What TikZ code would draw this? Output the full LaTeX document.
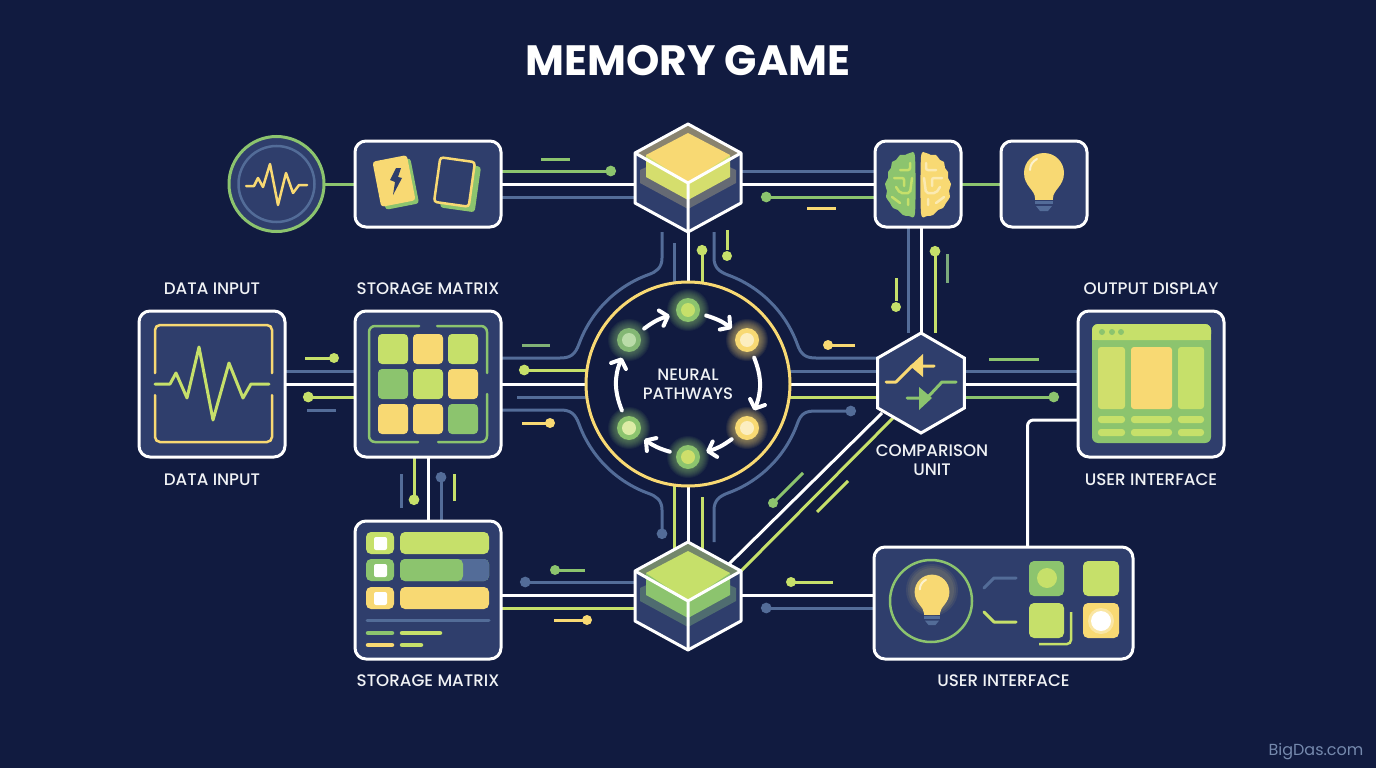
\documentclass[tikz,border=0pt]{standalone}
\usepackage{fontspec}
\setmainfont{Poppins}
\newfontfamily\labelfont{Poppins Medium}
\usepackage{xcolor}
\usetikzlibrary{positioning, shapes.geometric, arrows.meta, backgrounds}
\definecolor{Navy}{HTML}{111B40}
\definecolor{PanelBlue}{HTML}{2F3E6C}
\definecolor{Lime}{HTML}{C6E06A}
\definecolor{Leaf}{HTML}{8CC46E}
\definecolor{Gold}{HTML}{F8D973}
\definecolor{Slate}{HTML}{536C98}
\definecolor{Ink}{HTML}{F0F2F5}

% cube icon: node, top face, band, under band
\newcommand{\CubeIcon}[4]{
    \begin{scope}[shift={(#1.center)}]
        \fill[PanelBlue] (0,-54) -- (53,-25) -- (53,25) -- (0,54) -- (-53,25) -- (-53,-25) -- cycle;
        \fill[#2, opacity=0.45] (0,-54) -- (53,-25) -- (0,5) -- (-53,-25) -- cycle;
        \fill[#4, opacity=0.4] (-48,-8) -- (0,-30) -- (48,-8) -- (48,5) -- (0,31) -- (-48,5) -- cycle;
        \fill[#3] (-42,-23) -- (42,-23) -- (42,-1) -- (0,22) -- (-42,-1) -- cycle;
        \fill[#2] (0,-45) -- (42,-23) -- (0,5) -- (-42,-23) -- cycle;
        \draw[white, line width=3pt, line join=round] (0,-54) -- (53,-25) -- (53,25) -- (0,54) -- (-53,25) -- (-53,-25) -- cycle;
        \draw[white, line width=3pt, line join=round] (-53,-25) -- (0,5) -- (53,-25) (0,5) -- (0,54);
    \end{scope}
}
% bulb icon: x, y, scale
\newcommand{\BulbIcon}[3]{
    \begin{scope}[shift={(#1,#2)}, scale=#3]
        \fill[Gold] (-9,25) .. controls (-9,17) and (-20,13) .. (-20,0) arc[start angle=180, end angle=360, radius=20] .. controls (20,13) and (9,17) .. (9,25) -- cycle;
        \draw[Gold!35!white, line width=2pt, line cap=round] (-14,-3) .. controls (-14,-8) and (-11,-12) .. (-7,-14);
        \fill[Gold] (-9,25) rectangle (9,27);
        \fill[Slate] (-9,28) rectangle (9,31);
        \fill[Slate] (-8,33) -- (8,33) -- (4,38) -- (-4,38) -- cycle;
    \end{scope}
}

\begin{document}
\begin{tikzpicture}[
        x = 1pt, y = -1pt,
        Panel/.style = {rectangle, rounded corners = 11, draw = white, fill = PanelBlue, line width = 3pt, inner sep = 0, outer sep = 0},
        %
        Label/.style = {font = \labelfont\fontsize{16.7}{19}\selectfont, text = Ink, inner sep = 0, outer sep = 0, align = center},
        %
        WhiteLine/.style = {draw = white, line width = 3pt},
        SlateLine/.style = {draw = Slate, line width = 3pt},
        LeafLine/.style = {draw = Leaf, line width = 3pt},
        LimeLine/.style = {draw = Lime, line width = 3pt},
        GoldLine/.style = {draw = Gold, line width = 3pt},
        %
        Dot/.style = {-{Circle[length = 10.5pt, width = 10.5pt]}},
        %
        Flow/.style = {draw = white, line width = 4pt, line cap = round, -{Straight Barb[length = 7pt, width = 16pt, round]}},
    ]
        \useasboundingbox (0,0) rectangle (1376,768);

        % Main boxes
        \node[Panel, minimum width = 146pt, minimum height = 146pt] (DataInput) at (212,384) {};
        \node[Panel, minimum width = 146pt, minimum height = 146pt] (StorageMatrix) [right = 70pt of DataInput] {};
        \node[Panel, minimum width = 146pt, minimum height = 86pt] (CardDeck) [above = 84pt of StorageMatrix] {};
        \node[Panel, minimum width = 146pt, minimum height = 138pt] (StorageList) [below = 64pt of StorageMatrix] {};
        \node[circle, draw = Leaf, fill = PanelBlue, line width = 3pt, minimum size = 95pt, inner sep = 0, outer sep = 0] (PulseDial) [left = 31pt of CardDeck] {};

        % Neural ring
        \node[circle, draw = Gold, fill = Navy, line width = 3pt, minimum size = 204pt, inner sep = 0, outer sep = 0, font = \labelfont\fontsize{16.5}{19}\selectfont, text = Ink, align = center] (Neural) at (688,384) {NEURAL\\PATHWAYS};

        % Cubes only hold a place, the icon comes later
        \node[minimum width = 106pt, minimum height = 108pt, inner sep = 0, outer sep = 0] (TopCube) [above = 50pt of Neural] {};
        \node[minimum width = 106pt, minimum height = 108pt, inner sep = 0, outer sep = 0] (BottomCube) [below = 56pt of Neural] {};

        \node[regular polygon, regular polygon sides = 6, shape border rotate = 30, draw = white, fill = PanelBlue, line width = 3pt, minimum size = 100pt, inner sep = 0, outer sep = 0] (CompUnit) at (921,383) {};
        \node[Panel, minimum width = 146pt, minimum height = 146pt] (OutputDisplay) at (1151,384) {};
        \node[Panel, minimum width = 86pt, minimum height = 86pt] (BrainBox) at (918,184) {};
        \node[Panel, minimum width = 86pt, minimum height = 86pt] (BulbBox) [right = 40pt of BrainBox] {};
        \node[Panel, minimum width = 259pt, minimum height = 112pt] (UserPanel) at (1003.5,603) {};

        % Dots at the free line ends
        \coordinate (CardDot) at (616,171);
        \coordinate (BrainDot) at (761,197);
        \coordinate (BrainDownDot) at (935,246);
        \coordinate (InputDot) at (303,397);
        \coordinate (MatrixDot) at (519,370);
        \coordinate (MatrixSlate) at (517,397);
        \coordinate (MatrixDownDot) at (414,505);
        \coordinate (ListTopDot) at (441,472);
        \coordinate (CubeDot) at (702,245);
        \coordinate (RingTopEnd) at (674,243);
        \coordinate (RingLeftDot) at (662,539);
        \coordinate (RingRightDot) at (856,411);
        \coordinate (RingDownEnd) at (702,497);
        \coordinate (ListDot) at (520,582);
        \coordinate (PanelDot) at (761,608);
        \coordinate (OutputDot) at (1059,397);

        \begin{scope}[on background layer]
        \fill[Navy] (0,0) rectangle (1376,768);

        % Arrows top row
        \draw[LeafLine] (PulseDial.east) -- (CardDeck.west);
        \draw[LeafLine, Dot] ([shift={(0,-13)}]CardDeck.east) -- (CardDot);
        \draw[WhiteLine] (CardDeck.east) -- ([shift={(0,6)}]TopCube.west);
        \draw[SlateLine] ([shift={(0,13)}]CardDeck.east) -- ([shift={(0,19)}]TopCube.west);
        \draw[SlateLine] ([shift={(0,-7)}]TopCube.east) -- ([shift={(0,-13)}]BrainBox.west);
        \draw[WhiteLine] ([shift={(0,6)}]TopCube.east) -- (BrainBox.west);
        \draw[LeafLine, Dot] ([shift={(0,13)}]BrainBox.west) -- (BrainDot);
        \draw[LeafLine] (BrainBox.east) -- (BulbBox.west);

        % Arrows brain to comparison
        \draw[SlateLine] ([shift={(-10,0)}]BrainBox.south) -- ([shift={(-13,0)}]CompUnit.north);
        \draw[WhiteLine] ([shift={(3,0)}]BrainBox.south) -- (CompUnit.north);
        \draw[LimeLine, Dot] ([shift={(14,0)}]CompUnit.north) -- (BrainDownDot);

        % Arrows input to matrix
        \draw[SlateLine] ([shift={(0,-13)}]DataInput.east) -- ([shift={(0,-13)}]StorageMatrix.west);
        \draw[WhiteLine] (DataInput.east) -- (StorageMatrix.west);
        \draw[LimeLine, Dot] ([shift={(0,13)}]StorageMatrix.west) -- (InputDot);

        % Arrows matrix to ring
        \draw[LimeLine, Dot] ([shift={(0,-14)}]Neural.west) -- (MatrixDot);
        \draw[WhiteLine] (StorageMatrix.east) -- (Neural.west);
        \draw[SlateLine] (MatrixSlate) -- ([shift={(0,13)}]Neural.west);

        % Arrows ring to comparison
        \draw[SlateLine] ([shift={(0,-13)}]Neural.east) -- ([shift={(0,-12)}]CompUnit.west);
        \draw[WhiteLine] (Neural.east) -- ([shift={(0,1)}]CompUnit.west);
        \draw[LimeLine] ([shift={(0,13)}]Neural.east) -- ([shift={(0,14)}]CompUnit.west);

        % Arrows comparison to display
        \draw[SlateLine] ([shift={(0,-12)}]CompUnit.east) -- ([shift={(0,-13)}]OutputDisplay.west);
        \draw[WhiteLine] ([shift={(0,1)}]CompUnit.east) -- (OutputDisplay.west);
        \draw[LeafLine, Dot] ([shift={(0,14)}]CompUnit.east) -- (OutputDot);

        % Arrows top cube to ring
        \draw[SlateLine] (RingTopEnd) -- ([shift={(-14,0)}]Neural.north);
        \draw[WhiteLine] (TopCube.south) -- (Neural.north);
        \draw[LimeLine, Dot] ([shift={(14,0)}]Neural.north) -- (CubeDot);

        % Curves round the ring
        \draw[SlateLine] ([shift={(0,-26)}]StorageMatrix.east) -- (560,358) .. controls (570,358) and (575,355) .. (579,344) arc[start angle=200, end angle=250, radius=116] .. controls (656,272) and (662,268) .. (662,258) -- ([shift={(-26,0)}]TopCube.south);
        \draw[SlateLine] ([shift={(26,0)}]TopCube.south) -- (714,258) .. controls (714,268) and (720,272) .. (728,275) arc[start angle=290, end angle=340, radius=116] .. controls (801,355) and (806,358) .. (816,358) -- ([shift={(0,-25)}]CompUnit.west);
        \draw[SlateLine, Dot] ([shift={(0,26)}]StorageMatrix.east) -- (560,410) .. controls (570,410) and (575,413) .. (579,424) arc[start angle=160, end angle=110, radius=116] .. controls (656,496) and (662,500) .. (662,510) -- (RingLeftDot);
        \draw[SlateLine, Dot] ([shift={(26,0)}]BottomCube.north) -- (714,510) .. controls (714,500) and (720,496) .. (728,493) arc[start angle=70, end angle=20, radius=116] .. controls (801,413) and (806,411) .. (816,411) -- (RingRightDot);

        % Arrows ring to bottom cube
        \draw[LimeLine] ([shift={(-14,0)}]Neural.south) -- ([shift={(-14,10)}]BottomCube.north);
        \draw[WhiteLine] (Neural.south) -- (BottomCube.north);
        \draw[LimeLine] (RingDownEnd) -- ([shift={(14,10)}]BottomCube.north);

        % Arrows matrix to list
        \draw[LimeLine, Dot] ([shift={(-14,0)}]StorageMatrix.south) -- (MatrixDownDot);
        \draw[WhiteLine] (StorageMatrix.south) -- (StorageList.north);
        \draw[SlateLine, Dot] ([shift={(13,0)}]StorageList.north) -- (ListTopDot);

        % Arrows list to bottom cube
        \draw[SlateLine, Dot] ([shift={(0,-14)}]BottomCube.west) -- (ListDot);
        \draw[WhiteLine] ([shift={(0,5)}]StorageList.east) -- ([shift={(0,-1)}]BottomCube.west);
        \draw[LimeLine] ([shift={(0,18)}]StorageList.east) -- ([shift={(0,12)}]BottomCube.west);

        % Arrows bottom cube to panel
        \draw[WhiteLine] ([shift={(0,-1)}]BottomCube.east) -- ([shift={(0,-8)}]UserPanel.west);
        \draw[SlateLine, Dot] ([shift={(0,5)}]UserPanel.west) -- (PanelDot);

        % Diagonals
        \draw[WhiteLine] ([shift={(40,-31)}]BottomCube.center) -- ([shift={(-39,30)}]CompUnit.center);
        \draw[LimeLine] ([shift={(52,-24)}]BottomCube.center) -- ([shift={(-28,35)}]CompUnit.center);

        % Display to panel
        \draw[WhiteLine, rounded corners = 6] ([shift={(0,36)}]OutputDisplay.west) -| ([shift={(24,0)}]UserPanel.north);
        \end{scope}

        % Loose stubs
        \foreach \xa/\ya/\xb/\yb/\kind in {541/159/570/159/Leaf, 807/208/836/208/Gold, 896/278/896/301/Lime, 947/254/947/283/Leaf!70!Slate, 727/230/727/250/Lime, 522/345/550/345/Leaf!80!Slate, 401/474/401/508/Slate, 454/474/454/501/Lime, 307/410/336/410/Slate, 989/359/1039/359/Leaf, 555/570/585/570/Leaf, 803/473/773/503/Leaf, 848/481/817/512/Lime, 791/582/833/582/Lime, 305/358/330/358/Lime, 522/423/546/423/Gold, 855/345/832/345/Gold, 554/620/583/620/Gold}
            \draw[\kind, line width = 3pt] (\xa,\ya) -- (\xb,\yb);

        % Loose dots
        \foreach \xa/\ya/\kind in {896/307/Lime, 727/256/Lime, 334/358/Lime, 550/423/Gold, 828/345/Gold, 555/570/Leaf, 587/620/Gold, 791/582/Lime, 773/503/Leaf}
            \fill[\kind] (\xa,\ya) circle (5);

        % Dial
        \draw[Slate, line width = 2.5pt] (PulseDial.center) circle (38);
        \draw[Gold, line width = 2.5pt, line join = round, line cap = round] (246,186) -- (254,186) -- (258,178) -- (263,187) -- (270,164) -- (278,205) -- (286,173) -- (293,193) -- (299,185) -- (307,185);

        % Cards
        \fill[Leaf, rotate around = {11:(398,184)}, rounded corners = 3] (381,161) rectangle (415,207);
        \fill[Gold, rotate around = {11:(394,181)}, rounded corners = 3] (376.5,158) rectangle (411.5,204);
        \fill[PanelBlue] (396,168) -- (401,168) -- (398,177) -- (402,178) -- (393,195) -- (395,182) -- (390,180) -- cycle;
        \fill[Leaf, rotate around = {-8:(460,187)}, rounded corners = 3] (443,164) rectangle (478,210);
        \draw[Gold, fill = PanelBlue, line width = 2.5pt, rotate around = {-8:(454.5,182)}, rounded corners = 3] (437,159.5) rectangle (472,204.5);

        % Brain
        \foreach \side/\lobe/\fold in {-1/Leaf/Lime, 1/Gold/Gold!55!white} {
            \begin{scope}[shift = {(918,0)}, xscale = \side]
                \fill[\lobe] plot[smooth cycle] coordinates {(3,157) (8,153) (13,155) (18,155) (22,160) (26,162) (27,168) (30,172) (30,178) (33,184) (31,191) (32,197) (28,203) (25,208) (20,210) (15,215) (9,216) (3,213)};
                \draw[\fold, line width = 2.5pt, line cap = round, rounded corners = 2] (8,163) -- (8,170) -- (18,170) (24,178) -- (14,178) -- (14,186) (6,178) -- (8,193) -- (18,193) -- (22,187) (26,197) -- (18,203) (10,205) -- (10,199);
            \end{scope}
        }

        % Bulb
        \BulbIcon{1044}{173}{1}

        % Data input screen
        \draw[Gold, line width = 2.5pt, rounded corners = 5, line cap = round] (155,373) -- (155,325) -- (272,325) -- (272,373);
        \draw[Gold, line width = 2.5pt, rounded corners = 5, line cap = round] (155,395) -- (155,442) -- (272,442) -- (272,395);
        \draw[Lime, line width = 3pt, line join = round, line cap = round] (155,384) -- (170,384) -- (176,373) -- (187,398) -- (199,347) -- (213,420) -- (229,363) -- (243,398) -- (251,384) -- (269,384);

        % Matrix cells
        \foreach \col/\row/\tone in {0/0/Lime, 1/0/Gold, 2/0/Lime, 0/1/Leaf, 1/1/Lime, 2/1/Gold, 0/2/Gold, 1/2/Gold, 2/2/Leaf}
            \fill[\tone, rounded corners = 4] (378+35*\col,334+35*\row) rectangle ++(30,30);
        \draw[Leaf, line width = 2.5pt, rounded corners = 6, line cap = round] (419,326) -- (369,326) -- (369,442) -- (418,442);
        \draw[Leaf, line width = 2.5pt, rounded corners = 6, line cap = round] (437,326) -- (487,326) -- (487,373);
        \draw[Leaf, line width = 2.5pt, rounded corners = 6, line cap = round] (438,442) -- (487,442) -- (487,394);

        % Neurons
        \foreach \i/\px/\py/\ring/\core in {1/688/310/Leaf/Lime, 2/747/340/Gold/Gold!45!white, 3/747/428/Gold/Gold!45!white, 4/688/457/Leaf/Lime!85!Gold, 5/629/428/Leaf/Lime!60!white, 6/629/340/Leaf!85!Slate/Leaf!60!white} {
            \foreach \glow in {21,20,19,18,17,16,15,14,13}
                \fill[\ring, opacity = 0.07] (\px,\py) circle (\glow);
            \node[circle, fill = \ring, minimum size = 24pt, inner sep = 0, outer sep = 7pt] (Neuron\i) at (\px,\py) {};
            \fill[\core] (\px,\py) circle (7);
        }
        \foreach \a/\b/\bend in {6/1/10, 1/2/10, 2/3/22, 3/4/10, 4/5/10, 5/6/22}
            \draw[Flow] (Neuron\a) to[bend left = \bend] (Neuron\b);

        % Comparison icon
        \draw[Gold, line width = 3pt, line cap = round, line join = round] (886,382) -- (896,382) -- (912,366) -- (934,366);
        \fill[Gold] (923,354) -- (923,377) -- (910,366) -- cycle;
        \draw[Leaf, line width = 3pt, line cap = round, line join = round] (907,398) -- (927,398) -- (942,382) -- (956,382);
        \fill[Leaf] (919,387) -- (919,410) -- (932,398) -- cycle;

        % Output screen
        \fill[Leaf, rounded corners = 6] (1092,324) rectangle (1211,443);
        \fill[Lime, rounded corners = 6] (1092,324) rectangle (1211,340);
        \fill[Lime] (1092,334) rectangle (1211,340);
        \foreach \px in {1102,1112,1121}
            \fill[Leaf] (\px,332) circle (3);
        \foreach \xa/\xb/\tone in {1098/1125/Lime!80!Gold, 1131/1172/Gold, 1178/1204/Lime} {
            \fill[\tone, rounded corners = 3] (\xa,347) rectangle (\xb,409);
            \fill[Lime, rounded corners = 3] (\xa,416) rectangle (\xb,423);
            \fill[Lime, rounded corners = 3] (\xa,429) rectangle (\xb,436);
        }

        % List rows
        \foreach \py/\tone in {532/Lime, 559/Leaf, 587/Gold} {
            \fill[\tone, rounded corners = 5] (366,\py) rectangle ++(28,22);
            \fill[white, rounded corners = 2] (374,\py+5) rectangle ++(13,13);
            \fill[\tone, rounded corners = 5] (400,\py) rectangle ++(89,22);
        }
        \fill[Slate, rounded corners = 5] (450,559) rectangle (489,581);
        \fill[Leaf, rounded corners = 5] (400,559) rectangle (463,581);
        \draw[Slate, line width = 3pt, line cap = round] (367,620) -- (489,620);
        \draw[Leaf, line width = 4.5pt, line cap = round] (368,633) -- (392,633);
        \draw[Lime, line width = 4.5pt, line cap = round] (402,633) -- (440,633);
        \draw[Gold, line width = 4.5pt, line cap = round] (368,645) -- (392,645);
        \draw[Lime, line width = 4.5pt, line cap = round] (402,645) -- (421,645);

        % Cubes
        \CubeIcon{TopCube}{Gold}{Lime!70!Gold}{Gold!60!Slate}
        \CubeIcon{BottomCube}{Lime}{Leaf}{Leaf!80!Slate}

        % User panel
        \draw[Leaf, line width = 2.5pt] (931,601) circle (41);
        \foreach \glow in {26,24,22}
            \fill[Gold, opacity = 0.08] (932,590) circle (\glow);
        \BulbIcon{932}{592}{0.87}
        \draw[Slate, line width = 3pt, line cap = round, line join = round] (984,588) -- (994,578) -- (1016,578);
        \draw[Lime, line width = 3pt, line cap = round, line join = round] (984,612) -- (994,622) -- (1016,622);
        \fill[Leaf, rounded corners = 5] (1029,561) rectangle (1064,596);
        \fill[Lime] (1047,578) circle (10);
        \fill[Lime, rounded corners = 5] (1083,561) rectangle (1119,596);
        \draw[Lime, line width = 2.5pt, rounded corners = 4] (1071,612) -- (1071,644) -- (1039,644);
        \fill[Lime, rounded corners = 5] (1029,603) rectangle (1064,638);
        \fill[Gold, rounded corners = 5] (1083,603) rectangle (1119,638);
        \fill[white, opacity = 0.35] (1101,621) circle (13);
        \fill[white] (1101,621) circle (10);

        % Labels
        \node[font = \bfseries\fontsize{42.4}{46}\selectfont, text = white, inner sep = 0] (GameTitle) at (688,61) {MEMORY GAME};
        \node[Label] (InputTop) [above = 16pt of DataInput] {DATA INPUT};
        \node[Label] (MatrixTop) [above = 16pt of StorageMatrix] {STORAGE MATRIX};
        \node[Label] (DisplayTop) [above = 16pt of OutputDisplay] {OUTPUT DISPLAY};
        \node[Label] (InputBottom) [below = 17pt of DataInput] {DATA INPUT};
        \node[Label] (DisplayBottom) [below = 17pt of OutputDisplay] {USER INTERFACE};
        \node[Label] (ListBottom) [below = 16pt of StorageList] {STORAGE MATRIX};
        \node[Label] (PanelBottom) [below = 16pt of UserPanel] {USER INTERFACE};
        \node[Label] (CompLabel) at (932,460) {COMPARISON\\UNIT};
        \node[font = \fontsize{16}{18}\selectfont, text = Slate!80!white, inner sep = 0] (Watermark) at (1316,752) {BigDas.com};

    \end{tikzpicture}
\end{document}
